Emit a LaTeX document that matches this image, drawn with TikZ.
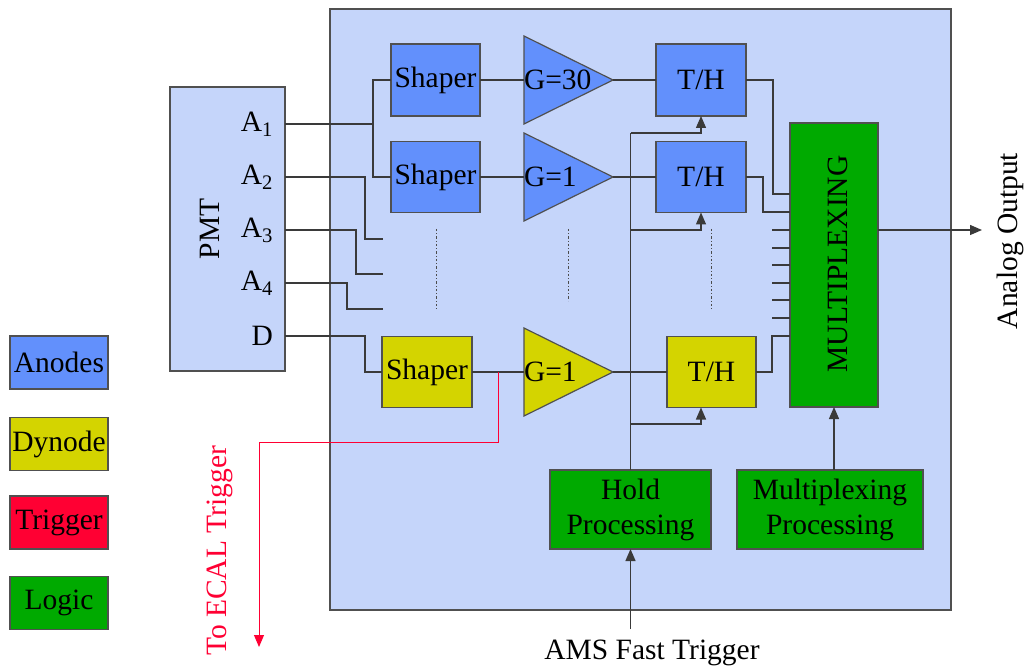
\documentclass[tikz,border=0pt]{standalone}
\usepackage{fontspec}
\setmainfont{Liberation Serif}
\usepackage{tikz}
\usetikzlibrary{arrows.meta, calc, shapes.geometric}
\definecolor{my_panel}{HTML}{C5D5FA}
\definecolor{my_anode}{HTML}{6290FC}
\definecolor{my_dynode}{HTML}{D4D400}
\definecolor{my_logic}{HTML}{00AA00}
\definecolor{my_trigger}{HTML}{FF0033}
\definecolor{my_wire}{HTML}{3A3A3A}
\definecolor{my_edge}{HTML}{505050}

\begin{document}
\begin{tikzpicture}[
    x=1pt, y=-1pt,  % one unit = one pixel of the layout, y grows downward
    font=\fontsize{29.5}{35}\selectfont,
    every node/.style={inner sep=0pt, outer sep=0pt},
    block/.style={draw=my_edge, line width=1.2pt, minimum width=89, minimum height=71},
    amp/.style={isosceles triangle, isosceles triangle stretches, shape border rotate=0,
        draw=my_edge, line width=1.2pt, minimum width=88, minimum height=89},
    wire/.style={my_wire, line width=1.3pt},
    trigwire/.style={my_trigger, line width=1pt},
    dotline/.style={black!70, line width=1pt, dash pattern=on 2.5pt off 2pt on 1pt off 2pt},
    toarrow/.style={-{Triangle[length=12pt,width=10pt]}},
]
\useasboundingbox (0,0) rectangle (1026,671);

% ── Front-end board ──────────────────────────────────────────────────────────
\filldraw[fill=my_panel, draw=my_edge, line width=1.2pt] (330,9) rectangle (951,610);

% ── PMT and its outputs ──────────────────────────────────────────────────────
\node[draw=my_edge, fill=my_panel, line width=1.2pt, minimum width=115, minimum height=284]
    (pmt) at (227.5,229) {};
\node[rotate=90] (pmtlbl) at (210,229) {PMT};
\node[anchor=east] (lblA1) at (273,124) {A\textsubscript{1}};
\node[anchor=east] (lblA2) at (273,177) {A\textsubscript{2}};
\node[anchor=east] (lblA3) at (273,230) {A\textsubscript{3}};
\node[anchor=east] (lblA4) at (273,283) {A\textsubscript{4}};
\node[anchor=east] (lblD)  at (273,336) {D};

% ── Anode chains (G=30 / G=1) ────────────────────────────────────────────────
\node[block, fill=my_anode, minimum height=72] (shp1) at (435.5,80)  {Shaper};
\node[block, fill=my_anode]                    (shp2) at (435.5,177) {Shaper};
\node[amp, fill=my_anode, anchor=west] (amp1) at (524,80)  {};
\node[amp, fill=my_anode, anchor=west] (amp2) at (524,177) {};
\node[anchor=west] (g1) at (amp1.west) {G=30};
\node[anchor=west] (g2) at (amp2.west) {G=1};
\node[block, fill=my_anode, minimum width=90, minimum height=72] (th1) at (701,80)  {T/H};
\node[block, fill=my_anode, minimum width=90]                    (th2) at (701,177) {T/H};

% ── Dynode chain ─────────────────────────────────────────────────────────────
\node[block, fill=my_dynode, minimum width=90] (shp3) at (427,372) {Shaper};
\node[amp, fill=my_dynode, anchor=west] (amp3) at (524,372) {};
\node[anchor=west] (g3) at (amp3.west) {G=1};
\node[block, fill=my_dynode] (th3) at (711.5,372) {T/H};

% ── Logic blocks ─────────────────────────────────────────────────────────────
\node[block, fill=my_logic, minimum width=88, minimum height=284] (mux) at (834,265) {};
\node[rotate=90] (muxlbl) at (838,264) {MULTIPLEXING};
\node[block, fill=my_logic, minimum width=161, minimum height=79, align=center]
    (hold) at (630.5,509.5) {\raisebox{-4pt}{Hold}\\\raisebox{-4pt}{Processing}};
\node[block, fill=my_logic, minimum width=186, minimum height=79, align=center]
    (mproc) at (830,509.5) {\raisebox{-4pt}{Multiplexing}\\\raisebox{-4pt}{Processing}};

% ── Wiring from the PMT ──────────────────────────────────────────────────────
\coordinate (split) at (373,124);
\coordinate (stubA2) at (383,239);
\coordinate (stubA3) at (383,274);
\coordinate (stubA4) at (383,309);
\draw[wire] (lblA1 -| pmt.east) -- (split) |- (shp1.west);
\draw[wire] (split) |- (shp2.west);
\draw[wire] (lblA2 -| pmt.east) -| ++(80,62) -- (stubA2);
\draw[wire] (lblA3 -| pmt.east) -| ++(71,44) -- (stubA3);
\draw[wire] (lblA4 -| pmt.east) -| ++(62,26) -- (stubA4);
\draw[wire] (lblD -| pmt.east) -| ++(80,36) -- (shp3.west);

% ── Signal path through shaper, amplifier and T/H ────────────────────────────
\draw[wire] (shp1.east) -- (amp1.west);
\draw[wire] (shp2.east) -- (amp2.west);
\draw[wire] (shp3.east) -- (amp3.west);
\draw[wire] (amp1.apex) -- (th1.west);
\draw[wire] (amp2.apex) -- (th2.west);
\draw[wire] (amp3.apex) -- (th3.west);

% Channels that are not shown
\foreach \dx/\dend in {436/310, 568/301, 711/310}
    \draw[dotline] (\dx,229) -- (\dx,\dend);

% ── Into the multiplexer ─────────────────────────────────────────────────────
\draw[wire] (th1.east) -| ++(27,114) -- (mux.west |- 0,194);
\draw[wire] (th2.east) -| ++(17,35) -- (mux.west |- 0,212);
\draw[wire] (th3.east) -| ++(16,-36) -- (mux.west |- 0,336);
\foreach \ty in {230,248,265,283,300,318}
    \draw[wire] (772,\ty) -- (mux.west |- 0,\ty);

\coordinate (anaout) at (982,230);
\draw[wire, toarrow] (mux.east |- anaout) -- (anaout);
\node[rotate=90] (anaoutlbl) at (1010,241) {Analog Output};

% ── Hold distribution ────────────────────────────────────────────────────────
\coordinate (holdtop) at (hold.north |- 0,133);
\draw[wire] (hold.north) -- (holdtop);
\draw[wire, toarrow] (holdtop) -| (th1.south);
\draw[wire, toarrow] (hold.north |- 0,230) -| (th2.south);
\draw[wire, toarrow] (hold.north |- 0,424) -| (th1.south |- th3.south);
\draw[wire, toarrow] (mux.south |- mproc.north) -- (mux.south);

\coordinate (amsin) at (hold.south |- 0,629);
\draw[wire, toarrow] (amsin) -- (hold.south);
\node (amslbl) at (652,653) {AMS Fast Trigger};

% ── Trigger tap on the dynode ────────────────────────────────────────────────
\coordinate (tap) at (498,372);
\coordinate (ecal) at (259,647);
\draw[trigwire, toarrow] (tap) |- (ecal |- 0,442) -- (ecal);
\node[rotate=90, text=my_trigger] (ecallbl) at (220,551) {To ECAL Trigger};

% ── Legend ───────────────────────────────────────────────────────────────────
\node[block, fill=my_anode,   minimum width=98, minimum height=53] (keyanode)   at (59,362.5) {Anodes};
\node[block, fill=my_dynode,  minimum width=98, minimum height=53] (keydynode)  at (59,444)   {Dynode};
\node[block, fill=my_trigger, minimum width=98, minimum height=53] (keytrigger) at (59,522.5) {Trigger};
\node[block, fill=my_logic,   minimum width=98, minimum height=53] (keylogic)   at (59,603)   {Logic};

\end{tikzpicture}
\end{document}
